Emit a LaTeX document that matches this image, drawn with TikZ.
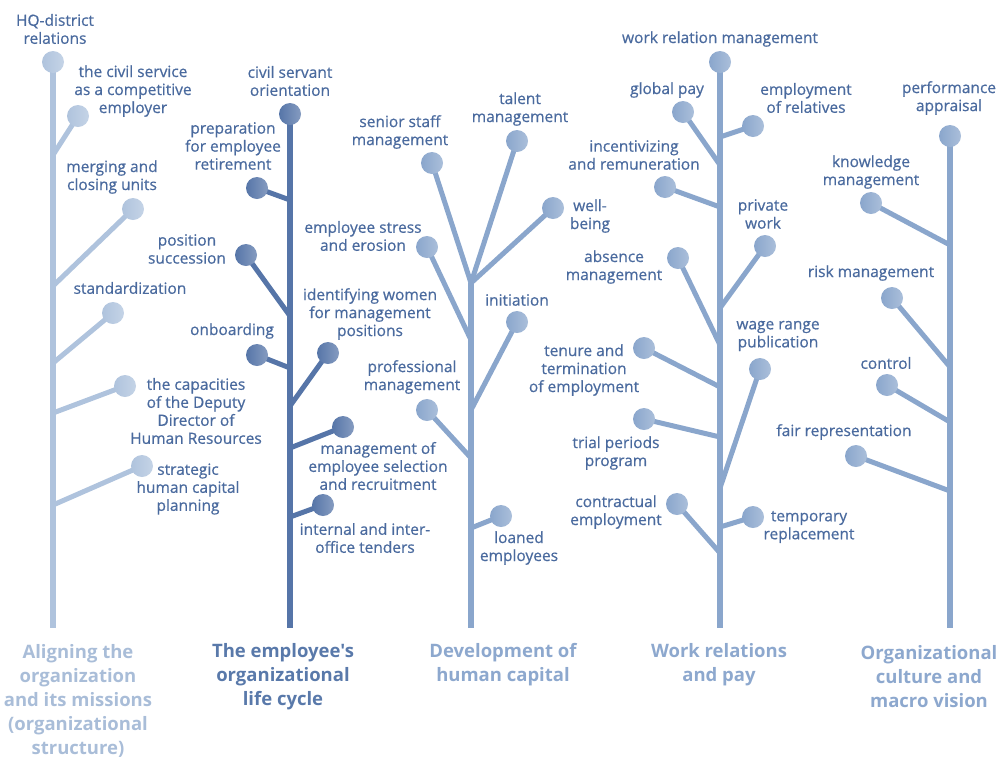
\documentclass[tikz,border=0pt]{standalone}
\usepackage{fontspec}
\setmainfont{Open Sans}
\newfontfamily\lblface{Open Sans}[FakeBold=0.6]
\newfontfamily\ttlface{Open Sans}
\definecolor{cA}{HTML}{AFC3DD}
\definecolor{cB}{HTML}{5675A8}
\definecolor{cC}{HTML}{8AA6CC}
\definecolor{txt}{HTML}{4A6A9E}
\definecolor{tA}{HTML}{A9BDD8}
\definecolor{tB}{HTML}{5979AA}
\definecolor{tC}{HTML}{8DA8CE}
\pgfdeclarelayer{bg}
\pgfsetlayers{bg,main}
\tikzset{
 ball/.style={circle,inner sep=0pt,minimum size=22pt,draw=none,left color=#1,right color=#1!72!white},
 trunk/.style={draw=#1,line width=6pt},
 twig/.style={draw=#1,line width=5pt,line cap=round},
 lbl/.style={font=\lblface\fontsize{15.5}{18}\selectfont,text=txt,align=center,inner sep=0pt},
 ttl/.style={font=\ttlface\bfseries\fontsize{18.5}{24}\selectfont,text=#1,align=center,inner sep=0pt},
}
\begin{document}
\begin{tikzpicture}[x=1pt,y=-1pt]
\useasboundingbox (0,0) rectangle (1003,761);

% ---------- Tree 1 ----------
\coordinate (a0) at (53,628);
\coordinate (a1) at (53,155);
\coordinate (a2) at (53,286);
\coordinate (a3) at (53,363);
\coordinate (a4) at (53,413);
\coordinate (a5) at (53,505);
\node[ball=cA] (ahq) at (53,62) {};
\node[ball=cA] (acs) at (78,116) {};
\node[ball=cA] (amc) at (133,209) {};
\node[ball=cA] (ast) at (113,313) {};
\node[ball=cA] (add) at (125,386) {};
\node[ball=cA] (asp) at (142,466) {};
\node[lbl] (lahq) at (55,29) {HQ-district\\relations};
\node[lbl] (lacs) at (133,91) {the civil service\\as a competitive\\employer};
\node[lbl] (lamc) at (112,177) {merging and\\closing units};
\node[lbl] (last) at (130,288) {standardization};
\node[lbl] (ladd) at (196,411) {the capacities\\of the Deputy\\Director of\\Human Resources};
\node[lbl] (lasp) at (188,489) {strategic\\human capital\\planning};
\node[ttl=tA] (ta) at (78,701) {Aligning the\\organization\\and its missions\\(organizational\\structure)};
\begin{pgfonlayer}{bg}
\draw[trunk=cA] (ahq.center) -- (a0);
\draw[twig=cA] (acs.center) -- (a1);
\draw[twig=cA] (amc.center) -- (a2);
\draw[twig=cA] (ast.center) -- (a3);
\draw[twig=cA] (add.center) -- (a4);
\draw[twig=cA] (asp.center) -- (a5);
\end{pgfonlayer}

% ---------- Tree 2 ----------
\coordinate (b0) at (290,628);
\coordinate (b1) at (290,200);
\coordinate (b2) at (290,316);
\coordinate (b3) at (290,368);
\coordinate (b4) at (290,406);
\coordinate (b5) at (290,448);
\coordinate (b6) at (290,517);
\node[ball=cB] (bcs) at (290,114) {};
\node[ball=cB] (bpr) at (257,188) {};
\node[ball=cB] (bps) at (246,255) {};
\node[ball=cB] (bon) at (257,355) {};
\node[ball=cB] (biw) at (328,353) {};
\node[ball=cB] (bms) at (343,427) {};
\node[ball=cB] (bit) at (323,505) {};
\node[lbl] (lbcs) at (290,81) {civil servant\\orientation};
\node[lbl] (lbpr) at (233,146) {preparation\\for employee\\retirement};
\node[lbl] (lbps) at (187,249) {position\\succession};
\node[lbl] (lbon) at (232,331) {onboarding};
\node[lbl] (lbiw) at (370,314) {identifying women\\for management\\positions};
\node[lbl] (lbms) at (378,466) {management of\\employee selection\\and recruitment};
\node[lbl] (lbit) at (365,538) {internal and inter-\\office tenders};
\node[ttl=tB] (tb) at (283,677) {The employee's\\organizational\\life cycle};
\begin{pgfonlayer}{bg}
\draw[trunk=cB] (bcs.center) -- (b0);
\draw[twig=cB] (bpr.center) -- (b1);
\draw[twig=cB] (bps.center) -- (b2);
\draw[twig=cB] (bon.center) -- (b3);
\draw[twig=cB] (biw.center) -- (b4);
\draw[twig=cB] (bms.center) -- (b5);
\draw[twig=cB] (bit.center) -- (b6);
\end{pgfonlayer}

% ---------- Tree 3 ----------
\coordinate (c0) at (471,628);
\coordinate (cf) at (471,283);
\coordinate (c1) at (471,340);
\coordinate (c2) at (471,410);
\coordinate (c3) at (471,458);
\coordinate (c4) at (471,528);
\node[ball=cC] (css) at (432,163) {};
\node[ball=cC] (ctm) at (517,141) {};
\node[ball=cC] (cwb) at (553,208) {};
\node[ball=cC] (cse) at (427,247) {};
\node[ball=cC] (cin) at (517,322) {};
\node[ball=cC] (cpm) at (427,410) {};
\node[ball=cC] (cle) at (501,516) {};
\node[lbl] (lcss) at (400,132) {senior staff\\management};
\node[lbl] (lctm) at (520,109) {talent\\management};
\node[lbl] (lcwb) at (590,216) {well-\\being};
\node[lbl] (lcse) at (363,236) {employee stress\\and erosion};
\node[lbl] (lcin) at (517,300) {initiation};
\node[lbl] (lcpm) at (412,377) {professional\\management};
\node[lbl] (lcle) at (519,548) {loaned\\employees};
\node[ttl=tC] (tc) at (503,665) {Development of\\human capital};
\begin{pgfonlayer}{bg}
\draw[trunk=cC] (cf) -- (c0);
\draw[twig=cC] (css.center) -- (cf);
\draw[twig=cC] (ctm.center) -- (cf);
\draw[twig=cC] (cwb.center) -- (cf);
\draw[twig=cC] (cse.center) -- (c1);
\draw[twig=cC] (cin.center) -- (c2);
\draw[twig=cC] (cpm.center) -- (c3);
\draw[twig=cC] (cle.center) -- (c4);
\end{pgfonlayer}

% ---------- Tree 4 ----------
\coordinate (d0) at (720,628);
\coordinate (d1) at (720,165);
\coordinate (d2) at (720,137);
\coordinate (d3) at (720,207);
\coordinate (d4) at (720,308);
\coordinate (d5) at (720,345);
\coordinate (d6) at (720,488);
\coordinate (d7) at (720,387);
\coordinate (d8) at (720,437);
\coordinate (d9) at (720,553);
\coordinate (d10) at (720,527);
\node[ball=cC] (dwr) at (720,62) {};
\node[ball=cC] (dgp) at (683,112) {};
\node[ball=cC] (der) at (753,126) {};
\node[ball=cC] (dir) at (665,187) {};
\node[ball=cC] (dpw) at (765,246) {};
\node[ball=cC] (dam) at (678,258) {};
\node[ball=cC] (dwp) at (760,369) {};
\node[ball=cC] (dte) at (644,348) {};
\node[ball=cC] (dtp) at (644,419) {};
\node[ball=cC] (dce) at (677,504) {};
\node[ball=cC] (dtr) at (753,517) {};
\node[lbl] (ldwr) at (720,39) {work relation management};
\node[lbl] (ldgp) at (667,90) {global pay};
\node[lbl] (lder) at (806,98) {employment\\of relatives};
\node[lbl] (ldir) at (634,155) {incentivizing\\and remuneration};
\node[lbl] (ldpw) at (763,214) {private\\work};
\node[lbl] (ldam) at (614,267) {absence\\management};
\node[lbl] (ldwp) at (778,336) {wage range\\publication};
\node[lbl] (ldte) at (584,370) {tenure and\\termination\\of employment};
\node[lbl] (ldtp) at (616,453) {trial periods\\program};
\node[lbl] (ldce) at (616,512) {contractual\\employment};
\node[lbl] (ldtr) at (809,527) {temporary\\replacement};
\node[ttl=tC] (td) at (719,665) {Work relations\\and pay};
\begin{pgfonlayer}{bg}
\draw[trunk=cC] (dwr.center) -- (d0);
\draw[twig=cC] (dgp.center) -- (d1);
\draw[twig=cC] (der.center) -- (d2);
\draw[twig=cC] (dir.center) -- (d3);
\draw[twig=cC] (dpw.center) -- (d4);
\draw[twig=cC] (dam.center) -- (d5);
\draw[twig=cC] (dwp.center) -- (d6);
\draw[twig=cC] (dte.center) -- (d7);
\draw[twig=cC] (dtp.center) -- (d8);
\draw[twig=cC] (dce.center) -- (d9);
\draw[twig=cC] (dtr.center) -- (d10);
\end{pgfonlayer}

% ---------- Tree 5 ----------
\coordinate (e0) at (950,628);
\coordinate (e1) at (950,245);
\coordinate (e2) at (950,367);
\coordinate (e3) at (950,422);
\coordinate (e4) at (950,491);
\node[ball=cC] (epa) at (950,136) {};
\node[ball=cC] (ekm) at (871,203) {};
\node[ball=cC] (erm) at (892,298) {};
\node[ball=cC] (eco) at (887,385) {};
\node[ball=cC] (efr) at (856,456) {};
\node[lbl] (lepa) at (949,98) {performance\\appraisal};
\node[lbl] (lekm) at (871,172) {knowledge\\management};
\node[lbl] (lerm) at (871,273) {risk management};
\node[lbl] (leco) at (886,363) {control};
\node[lbl] (lefr) at (844,432) {fair representation};
\node[ttl=tC] (te) at (929,677) {Organizational\\culture and\\macro vision};
\begin{pgfonlayer}{bg}
\draw[trunk=cC] (epa.center) -- (e0);
\draw[twig=cC] (ekm.center) -- (e1);
\draw[twig=cC] (erm.center) -- (e2);
\draw[twig=cC] (eco.center) -- (e3);
\draw[twig=cC] (efr.center) -- (e4);
\end{pgfonlayer}
\end{tikzpicture}
\end{document}
